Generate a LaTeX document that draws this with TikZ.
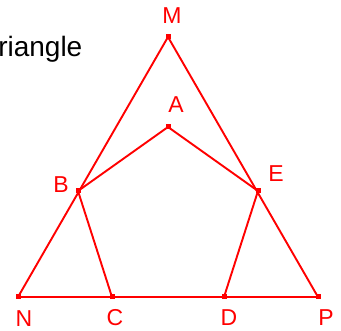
\documentclass[tikz,border=0pt]{standalone}
\usepackage{fontspec}
\setmainfont{Liberation Sans}
\usetikzlibrary{positioning}
\definecolor{figred}{HTML}{FF0000}

\begin{document}
\begin{tikzpicture}[x=1pt, y=-1pt, font=\fontsize{23}{23}\selectfont,
  pt/.style={rectangle, fill=figred, inner sep=0pt, minimum size=5pt},
  lbl/.style={text=figred, anchor=base, inner sep=0pt},
  edge/.style={draw=figred, line width=1.9pt}]
  \useasboundingbox (0,0) rectangle (341,331);
  % title, cut at the left edge
  \node[anchor=base west, inner sep=0pt, font=\fontsize{28}{28}\selectfont] (title) at (-18,57) {Triangle};
  % points
  \node[pt] (M) at (168,37) {};
  \node[pt] (A) at (168,127) {};
  \node[pt] (B) at (78,191) {};
  \node[pt] (E) at (258,191) {};
  \node[pt] (N) at (18,297) {};
  \node[pt] (C) at (112,297) {};
  \node[pt] (D) at (224,297) {};
  \node[pt] (P) at (318,297) {};
  % labels
  \node[lbl] (lM) at (172,24) {M};
  \node[lbl] (lA) at (176,113) {A};
  \node[lbl] (lB) at (61,193) {B};
  \node[lbl] (lE) at (276,182) {E};
  \node[lbl] (lN) at (24,327) {N};
  \node[lbl] (lC) at (115,326) {C};
  \node[lbl] (lD) at (229,326) {D};
  \node[lbl] (lP) at (326,326) {P};
  % triangle
  \draw[edge] (M.center) -- (N.center) -- (P.center) -- cycle;
  % pentagon
  \draw[edge] (C.center) -- (B.center) -- (A.center) -- (E.center) -- (D.center);
  \draw[edge, line width=2.6pt] (C.center) -- (D.center);
\end{tikzpicture}
\end{document}
